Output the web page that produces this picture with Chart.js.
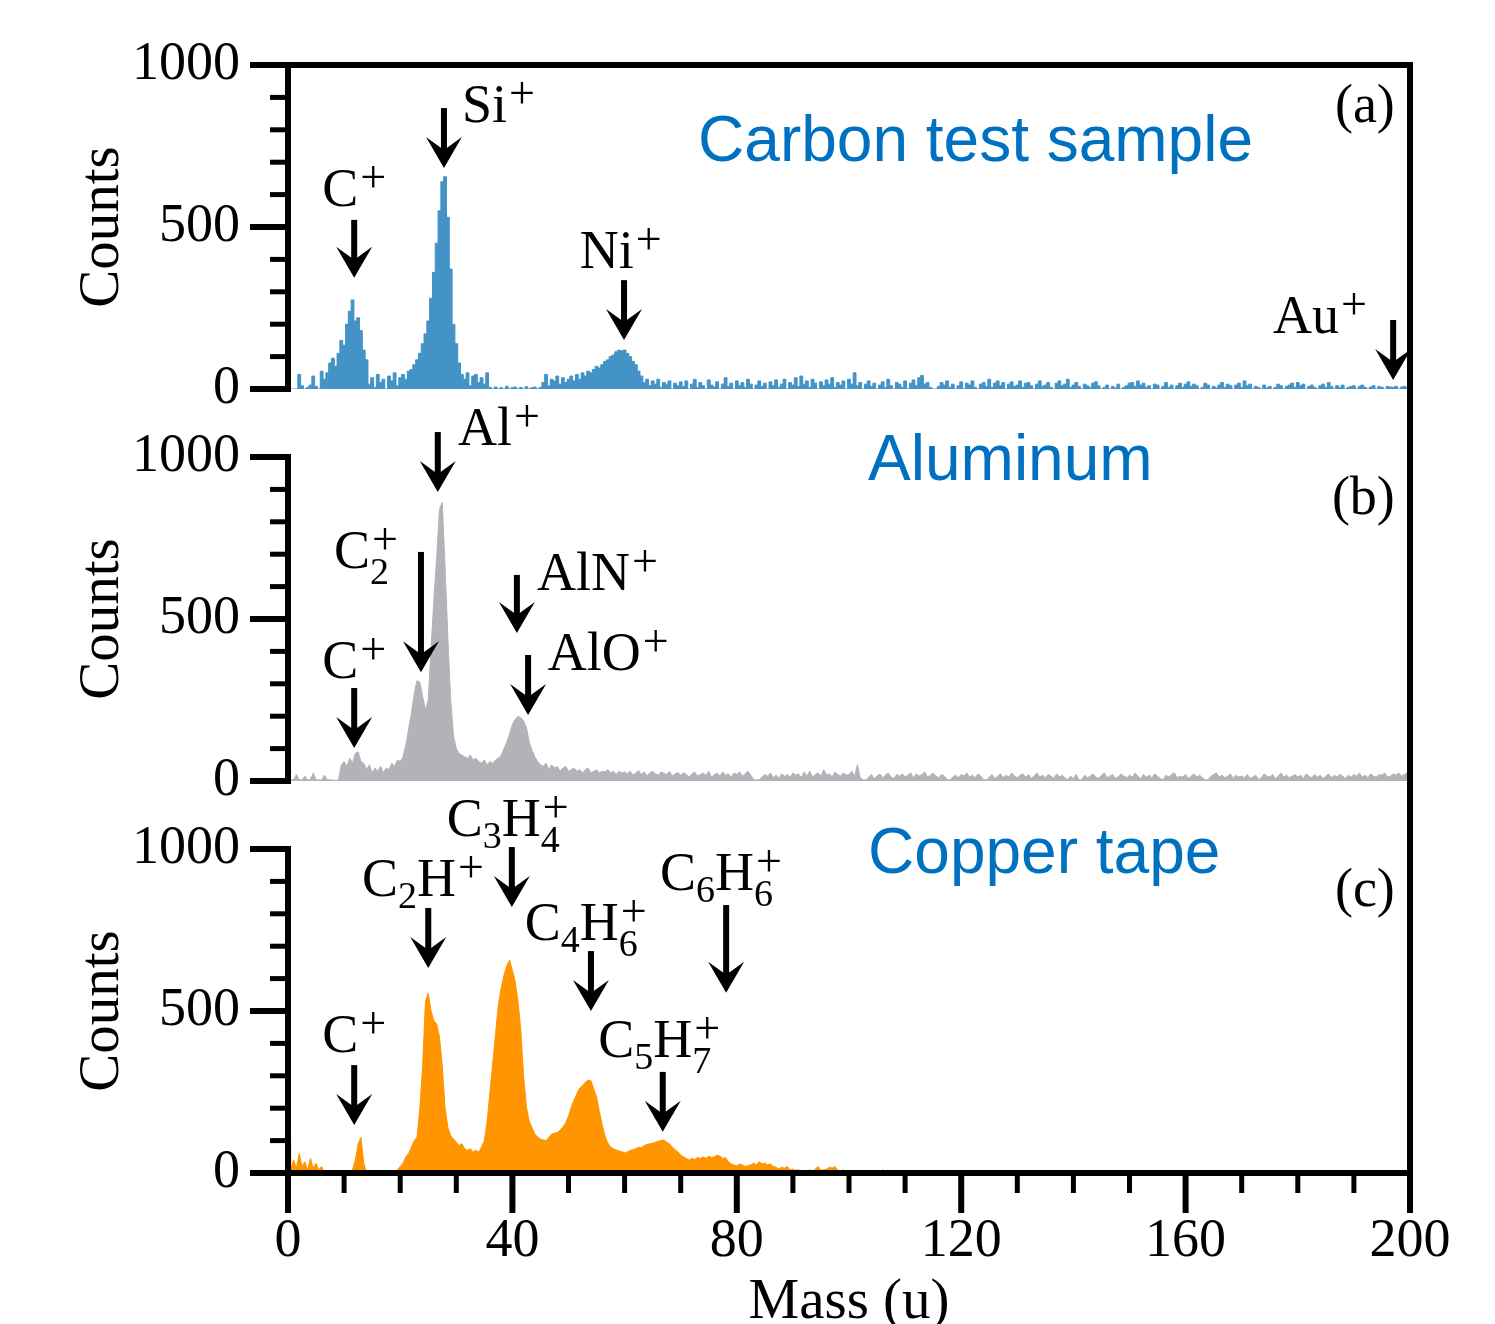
<!DOCTYPE html>
<html>
<head>
<meta charset="utf-8">
<title>Mass spectra</title>
<script src="https://cdn.jsdelivr.net/npm/chart.js@4.4.1/dist/chart.umd.min.js"></script>
<style>
  html, body { margin: 0; padding: 0; background: #fff; }
  #wrap { position: relative; width: 1495px; height: 1324px; overflow: hidden; }
  #wrap canvas { position: absolute; left: 0; top: 0; }
</style>
</head>
<body>
<div id="wrap">
  <canvas id="panel-a" width="1495" height="1324"></canvas>
  <canvas id="panel-b" width="1495" height="1324"></canvas>
  <canvas id="panel-c" width="1495" height="1324"></canvas>
</div>
<script>
// Bin width of the spectra (u); each counts array starts at mass 0
const massStep = 0.5;
const massTicks = [0, 40, 80, 120, 160, 200];
const countTicks = [0, 500, 1000];

// (a) Carbon test sample, one row = 10 u
const countsCarbon = [
  0, 0, 0, 0, 45, 10, 0, 5, 12, 40, 8, 0, 55, 30, 50, 80, 95, 70, 110, 150,
  135, 200, 240, 275, 210, 220, 180, 120, 90, 15, 35, 5, 45, 20, 30, 0, 40, 25, 50, 10,
  35, 45, 30, 55, 60, 75, 90, 110, 140, 170, 210, 280, 360, 450, 550, 640, 655, 530, 370, 200,
  140, 80, 45, 30, 50, 10, 40, 45, 20, 35, 15, 50, 5, 0, 6, 0, 4, 0, 8, 0,
  5, 6, 0, 5, 0, 7, 0, 4, 6, 0, 5, 20, 45, 10, 30, 25, 40, 15, 35, 20,
  30, 40, 25, 45, 30, 50, 40, 55, 50, 60, 70, 65, 75, 85, 90, 100, 105, 115, 120, 118,
  120, 110, 100, 85, 75, 55, 40, 20, 30, 10, 25, 15, 30, 5, 20, 15, 25, 0, 18, 10,
  22, 8, 25, 0, 15, 30, 5, 20, 10, 0, 28, 12, 6, 22, 0, 15, 35, 8, 18, 0,
  25, 10, 20, 5, 30, 15, 0, 12, 25, 8, 18, 0, 22, 10, 28, 5, 15, 30, 0, 20,
  12, 35, 8, 40, 15, 25, 5, 30, 18, 0, 22, 10, 28, 15, 35, 5, 20, 12, 25, 0,
  30, 15, 50, 10, 20, 0, 15, 25, 8, 18, 0, 12, 22, 5, 30, 10, 0, 20, 15, 5,
  25, 0, 18, 28, 10, 35, 42, 15, 20, 5, 0, 0, 8, 20, 12, 25, 5, 15, 0, 10,
  22, 0, 18, 12, 25, 5, 0, 15, 20, 8, 30, 5, 18, 25, 10, 20, 0, 15, 22, 8,
  12, 25, 5, 18, 20, 10, 0, 15, 25, 8, 12, 20, 5, 0, 18, 25, 10, 15, 30, 5,
  12, 20, 8, 0, 15, 10, 5, 18, 22, 10, 0, 5, 12, 0, 8, 3, 15, 0, 5, 10,
  18, 20, 8, 25, 12, 18, 5, 10, 0, 15, 12, 0, 8, 20, 5, 12, 0, 10, 18, 5,
  15, 22, 8, 15, 10, 0, 5, 18, 12, 0, 8, 3, 12, 20, 5, 15, 10, 0, 12, 18,
  5, 25, 10, 15, 0, 8, 5, 0, 12, 3, 8, 0, 5, 15, 10, 0, 8, 12, 18, 5,
  20, 10, 15, 0, 8, 12, 5, 0, 10, 15, 5, 20, 8, 0, 10, 5, 12, 0, 5, 8,
  10, 0, 8, 12, 5, 0, 6, 10, 0, 8, 5, 0, 8, 6, 5, 8, 0, 6, 8, 5,
  6
];

// (b) Aluminum
const countsAluminum = [
  0, 5, 3, 20, 4, 3, 15, 3, 5, 25, 3, 4, 3, 18, 3, 4, 3, 2, 3, 50,
  60, 45, 70, 55, 85, 90, 60, 55, 35, 50, 25, 40, 30, 45, 25, 40, 35, 55, 45, 65,
  60, 75, 110, 160, 210, 270, 310, 305, 260, 220, 250, 410, 560, 690, 840, 860, 660, 440, 250, 140,
  100, 85, 80, 75, 70, 80, 65, 70, 60, 55, 65, 50, 60, 55, 65, 70, 80, 100, 120, 145,
  175, 190, 200, 195, 185, 165, 120, 95, 75, 60, 50, 45, 55, 35, 50, 40, 45, 30, 40, 45,
  30, 35, 40, 30, 35, 25, 35, 40, 25, 30, 35, 25, 30, 28, 35, 25, 30, 20, 30, 25,
  28, 22, 30, 18, 25, 32, 20, 28, 15, 25, 30, 22, 18, 28, 24, 20, 30, 15, 22, 26,
  18, 25, 20, 12, 22, 28, 15, 20, 25, 18, 30, 12, 20, 24, 15, 28, 18, 22, 12, 25,
  20, 28, 15, 22, 30, 18, 5, 3, 4, 12, 20, 15, 25, 10, 18, 8, 22, 14, 20, 12,
  25, 18, 22, 10, 28, 15, 30, 12, 20, 25, 15, 35, 18, 22, 12, 28, 20, 15, 25, 18,
  20, 30, 15, 50, 10, 4, 3, 12, 20, 8, 15, 22, 10, 18, 25, 12, 8, 20, 15, 22,
  12, 18, 25, 10, 22, 15, 20, 28, 12, 18, 24, 15, 10, 20, 15, 4, 3, 12, 18, 10,
  20, 15, 25, 12, 18, 10, 22, 15, 4, 3, 12, 20, 8, 15, 22, 10, 18, 12, 25, 15,
  10, 18, 22, 12, 20, 8, 15, 25, 12, 18, 10, 20, 15, 8, 22, 12, 18, 10, 4, 15,
  8, 20, 3, 4, 18, 10, 15, 22, 12, 8, 18, 25, 10, 15, 20, 8, 12, 22, 15, 10,
  18, 12, 25, 15, 8, 20, 12, 18, 10, 22, 15, 8, 4, 18, 12, 20, 25, 10, 15, 12,
  20, 8, 15, 22, 12, 18, 10, 3, 4, 15, 20, 25, 12, 18, 10, 15, 22, 8, 18, 12,
  15, 10, 20, 8, 12, 18, 4, 10, 22, 15, 12, 20, 8, 15, 25, 12, 18, 10, 15, 20,
  12, 18, 8, 22, 15, 10, 20, 12, 18, 8, 15, 22, 10, 18, 12, 20, 15, 8, 18, 12,
  20, 15, 25, 12, 18, 10, 22, 15, 12, 20, 18, 25, 12, 15, 22, 18, 25, 15, 20, 25,
  15
];

// (c) Copper tape
const countsCopper = [
  1100, 15, 40, 15, 60, 20, 35, 10, 45, 15, 30, 10, 20, 0, 0, 0, 0, 0, 0, 0,
  0, 0, 0, 10, 40, 90, 110, 30, 0, 0, 0, 0, 0, 0, 0, 0, 0, 0, 0, 10,
  20, 30, 50, 60, 80, 100, 110, 200, 330, 530, 555, 500, 470, 460, 420, 330, 200, 140, 115, 105,
  95, 85, 90, 75, 70, 75, 65, 70, 65, 80, 100, 160, 250, 340, 430, 520, 570, 610, 640, 657,
  625, 590, 530, 440, 300, 204, 160, 140, 120, 111, 105, 102, 100, 110, 120, 123, 125, 132, 142, 155,
  175, 204, 225, 245, 262, 270, 280, 287, 285, 260, 235, 190, 150, 115, 93, 80, 75, 71, 68, 66,
  62, 65, 70, 72, 75, 80, 78, 85, 88, 90, 92, 95, 98, 100, 102, 95, 90, 80, 72, 65,
  55, 50, 45, 40, 45, 42, 48, 45, 50, 45, 52, 48, 50, 55, 52, 45, 48, 35, 28, 25,
  22, 28, 25, 20, 22, 25, 30, 26, 35, 28, 30, 25, 28, 20, 18, 12, 18, 15, 20, 10,
  12, 8, 10, 5, 8, 6, 10, 5, 12, 20, 8, 10, 12, 18, 15, 20, 8, 6, 10, 4,
  8, 3, 6, 2, 5, 3, 2, 4, 2, 3, 2, 3, 10, 5, 3, 2, 3, 0, 0, 2,
  0, 3, 0, 0, 2, 0, 0, 3, 0, 0, 0, 2, 0, 0, 0, 0, 3, 0, 5, 0,
  0, 2, 0, 0, 0, 5, 0, 0, 0, 4, 0, 0, 0, 0, 2, 0, 0, 0, 0, 3,
  5, 0, 0, 0, 0, 2, 0, 0, 0, 0, 5, 0, 0, 0, 0, 0, 2, 0, 0, 0,
  0, 0, 2, 0, 0, 0, 0, 0, 8, 0, 0, 0, 0, 0, 2, 0, 0, 0, 0, 0,
  0, 0, 0, 2, 0, 0, 0, 0, 0, 0, 0, 0, 2, 0, 0, 0, 0, 0, 0, 0,
  0, 0, 0, 0, 5, 0, 0, 0, 0, 0, 0, 2, 0, 0, 0, 0, 0, 0, 0, 0,
  0, 0, 0, 4, 0, 0, 0, 0, 0, 0, 0, 0, 0, 2, 0, 0, 0, 0, 0, 0,
  0, 0, 0, 0, 0, 0, 2, 0, 0, 0, 0, 0, 0, 0, 0, 0, 0, 0, 2, 0,
  0, 0, 0, 0, 0, 0, 0, 0, 0, 0, 0, 0, 0, 0, 0, 0, 0, 0, 0, 0,
  0
];

// Peak labels: text position (mass, count) and arrow (mass, top count, tip count)
const peaksCarbon = [
  { text: "C^+", mass: 6.1, count: 565, at: 11.8, top: 522, tip: 343 },
  { text: "Si^+", mass: 31.0, count: 824, at: 27.8, top: 867, tip: 682 },
  { text: "Ni^+", mass: 52.0, count: 373, at: 59.9, top: 336, tip: 151 },
  { text: "Au^+", mass: 175.6, count: 173, at: 197.0, top: 213, tip: 28 },
];
const peaksAluminum = [
  { text: "Al^+", mass: 30.3, count: 1037, at: 26.7, top: 1077, tip: 892 },
  { text: "C_2^+", mass: 8.2, count: 657, at: 23.7, top: 707, tip: 336 },
  { text: "C^+", mass: 6.1, count: 318, at: 11.8, top: 287, tip: 102 },
  { text: "AlN^+", mass: 44.4, count: 590, at: 40.8, top: 636, tip: 457 },
  { text: "AlO^+", mass: 46.3, count: 343, at: 42.8, top: 389, tip: 204 },
];
const peaksCopper = [
  { text: "C^+", mass: 6.1, count: 373, at: 11.8, top: 333, tip: 148 },
  { text: "C_2H^+", mass: 13.2, count: 855, at: 25.0, top: 818, tip: 633 },
  { text: "C_3H_4^+", mass: 28.3, count: 1040, at: 39.9, top: 1006, tip: 821 },
  { text: "C_4H_6^+", mass: 42.2, count: 719, at: 54.0, top: 685, tip: 500 },
  { text: "C_6H_6^+", mass: 66.3, count: 873, at: 78.1, top: 827, tip: 556 },
  { text: "C_5H_7^+", mass: 55.3, count: 358, at: 66.8, top: 312, tip: 127 },
];

const SERIF = "'Liberation Serif', 'DejaVu Serif', serif";
const SANS = "'Liberation Sans', Arial, sans-serif";
const MAIN_FONT = "54px " + SERIF;
const SCRIPT_FONT = "38px " + SERIF;
const PLUS_FONT = "46px " + SERIF;

function seg(ctx, x1, y1, x2, y2) {
  ctx.beginPath();
  ctx.moveTo(x1, y1);
  ctx.lineTo(x2, y2);
  ctx.stroke();
}

// Draws text like "C_3H_4^+" with sub- and superscripts
function drawFormula(ctx, text, x, y) {
  let i = 0;
  while (i < text.length) {
    if (text[i] === "_" || text[i] === "^") {
      let sub = null, sup = null;
      while (i < text.length && (text[i] === "_" || text[i] === "^")) {
        if (text[i] === "_") sub = text[i + 1];
        else sup = text[i + 1];
        i += 2;
      }
      let w = 0;
      if (sub) {
        ctx.font = SCRIPT_FONT;
        ctx.fillText(sub, x, y + (sup ? 16 : 12));
        w = ctx.measureText(sub).width;
      }
      if (sup) {
        ctx.font = PLUS_FONT;
        ctx.fillText(sup, x + 2, y - 14);
        w = Math.max(w, ctx.measureText(sup).width + 2);
      }
      x += w;
    } else {
      ctx.font = MAIN_FONT;
      ctx.fillText(text[i], x, y);
      x += ctx.measureText(text[i]).width;
      i++;
    }
  }
}

function drawArrow(ctx, px, top, tip) {
  const head = 31, half = 18, notch = 18;
  ctx.fillRect(px - 3, top, 6, tip - notch - top + 2);
  ctx.beginPath();
  ctx.moveTo(px, tip);
  ctx.lineTo(px - half, tip - head);
  ctx.lineTo(px, tip - notch);
  ctx.lineTo(px + half, tip - head);
  ctx.closePath();
  ctx.fill();
}

const panelDecor = {
  id: "panelDecor",
  afterDraw(chart, args, opts) {
    const { ctx, chartArea: area } = chart;
    const x = chart.scales.x;
    const y = chart.scales.y;
    const y0 = y.getPixelForValue(0);
    const y1 = y.getPixelForValue(1000);

    ctx.save();
    ctx.fillStyle = "#000";
    ctx.strokeStyle = "#000";
    ctx.lineCap = "butt";

    // frame and axes
    ctx.lineWidth = 6;
    seg(ctx, area.left, y1 - 3, area.left, y0 + 3);
    seg(ctx, area.right, opts.frameTop ? y1 - 3 : y1 - 72, area.right, y0 + (opts.xAxis ? 3 : 0));
    if (opts.frameTop) seg(ctx, area.left - 38, y1, area.right + 3, y1);
    if (opts.xAxis) seg(ctx, area.left - 38, y0, area.right + 3, y0);

    y.ticks.forEach((t) => {
      const py = y.getPixelForValue(t.value);
      const major = countTicks.includes(t.value);
      ctx.lineWidth = major ? 6 : 5;
      seg(ctx, area.left - (major ? 38 : 18), py, area.left, py);
    });
    if (opts.xAxis) {
      x.ticks.forEach((t) => {
        const px = x.getPixelForValue(t.value);
        const major = massTicks.includes(t.value);
        ctx.lineWidth = major ? 6 : 5;
        seg(ctx, px, y0, px, y0 + (major ? 40 : 20));
      });
    }

    // axis titles
    ctx.font = "57px " + SERIF;
    ctx.textAlign = "center";
    ctx.textBaseline = "alphabetic";
    ctx.save();
    ctx.translate(area.left - 170, (y0 + y1) / 2);
    ctx.rotate(-Math.PI / 2);
    ctx.fillText("Counts", 0, 0);
    ctx.restore();
    if (opts.xAxis) {
      ctx.fillText("Mass (u)", (area.left + area.right) / 2, y0 + 145);
    }

    // peak labels and arrows
    ctx.textAlign = "left";
    opts.peaks.forEach((p) => {
      drawFormula(ctx, p.text, x.getPixelForValue(p.mass), y.getPixelForValue(p.count));
      drawArrow(ctx, x.getPixelForValue(p.at), y.getPixelForValue(p.top), y.getPixelForValue(p.tip));
    });

    // sample name and panel letter
    ctx.font = "64px " + SANS;
    ctx.fillStyle = "#0070c0";
    ctx.fillText(opts.title, x.getPixelForValue(opts.titleAt[0]), y.getPixelForValue(opts.titleAt[1]));
    ctx.font = "54px " + SERIF;
    ctx.fillStyle = "#000";
    ctx.textAlign = "right";
    ctx.fillText(opts.letter, x.getPixelForValue(197.3), y.getPixelForValue(823));
    ctx.restore();
  },
};

function makePanel(id, counts, color, stepped, padding, decor) {
  const showX = !!decor.xAxis;
  return new Chart(document.getElementById(id), {
    type: "line",
    data: {
      datasets: [
        {
          data: counts.map((c, i) => ({ x: i * massStep, y: c })),
          fill: "origin",
          backgroundColor: color,
          borderColor: color,
          borderWidth: 1,
          pointRadius: 0,
          stepped: stepped ? "middle" : false,
          tension: 0,
        },
      ],
    },
    options: {
      responsive: false,
      animation: false,
      devicePixelRatio: 1,
      events: [],
      layout: { padding: Object.assign({ left: 0, right: 85 }, padding) },
      plugins: {
        legend: { display: false },
        tooltip: { enabled: false },
        panelDecor: decor,
      },
      scales: {
        x: {
          type: "linear",
          min: 0,
          max: 200,
          display: showX,
          grid: { drawOnChartArea: false, drawTicks: false },
          border: { display: false },
          ticks: {
            stepSize: 10,
            autoSkip: false,
            maxRotation: 0,
            minRotation: 0,
            padding: 36,
            color: "#000",
            font: { family: SERIF, size: 54 },
            callback: (v) => (massTicks.includes(v) ? String(v) : ""),
          },
          afterFit: (scale) => {
            scale.height = showX ? 151 : 0;
          },
        },
        y: {
          min: 0,
          max: 1000,
          grid: { drawOnChartArea: false, drawTicks: false },
          border: { display: false },
          ticks: {
            stepSize: 100,
            autoSkip: false,
            padding: 48,
            color: "#000",
            font: { family: SERIF, size: 54 },
            callback: (v) => (countTicks.includes(v) ? String(v) : ""),
          },
          afterFit: (scale) => {
            scale.width = 288;
            scale.paddingTop = 0;
            scale.paddingBottom = 0;
          },
        },
      },
    },
    plugins: [panelDecor],
  });
}

makePanel("panel-a", countsCarbon, "#4393c6", true, { top: 65, bottom: 935 }, {
  frameTop: true,
  peaks: peaksCarbon,
  title: "Carbon test sample",
  titleAt: [73.1, 704],
  letter: "(a)",
});
makePanel("panel-b", countsAluminum, "#b2b3b8", false, { top: 457, bottom: 543 }, {
  peaks: peaksAluminum,
  title: "Aluminum",
  titleAt: [103.4, 929],
  letter: "(b)",
});
makePanel("panel-c", countsCopper, "#ff9500", false, { top: 849, bottom: 0 }, {
  xAxis: true,
  peaks: peaksCopper,
  title: "Copper tape",
  titleAt: [103.4, 926],
  letter: "(c)",
});
</script>
</body>
</html>
